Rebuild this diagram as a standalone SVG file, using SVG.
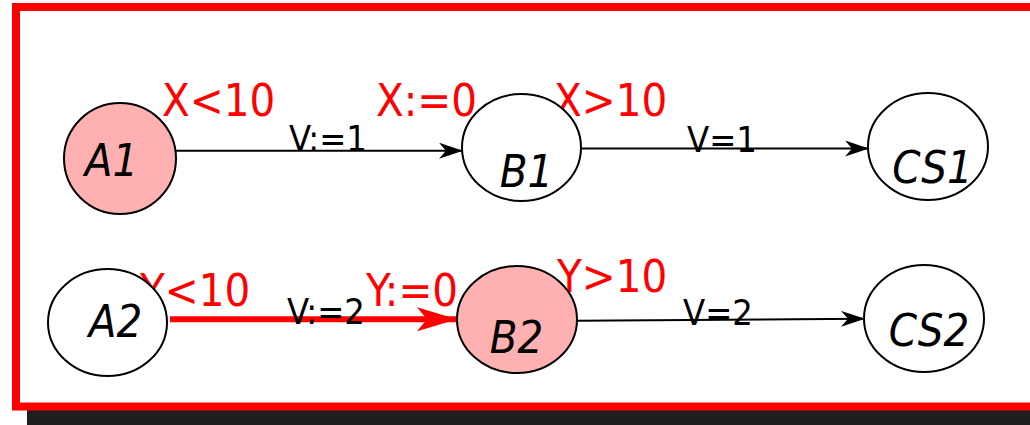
<svg xmlns="http://www.w3.org/2000/svg" width="1030" height="425" viewBox="0 0 1030 425">
<style>
.node{stroke:#000;stroke-width:2;fill:#fff}
.hot{fill:#ffb0b0}
text{font-family:"DejaVu Sans Condensed","DejaVu Sans",sans-serif;font-stretch:condensed}
.nl{font-style:italic;font-size:45px;fill:#000;text-anchor:middle}
.guard{font-size:45px;fill:#ff0000}
.act{font-size:36px;fill:#000}
.edge{stroke:#000;stroke-width:2;fill:none}
.edge-red{stroke:#ff0000;stroke-width:6;fill:none}
</style>
<defs>
<marker id="arrB" viewBox="0 0 24 16" refX="23" refY="8" markerWidth="24" markerHeight="16" markerUnits="userSpaceOnUse" orient="auto">
<path d="M0,0 L24,8 L0,16 L7,8 Z" fill="#000"/>
</marker>
<marker id="arrR" viewBox="0 0 40 24" refX="40" refY="12" markerWidth="40" markerHeight="24" markerUnits="userSpaceOnUse" orient="auto">
<path d="M0,0 L40,12 L0,24 L10,12 Z" fill="#ff0000"/>
</marker>
</defs>
<rect x="0" y="0" width="1030" height="425" fill="#fff"/>
<rect x="27" y="18" width="1020" height="420" fill="#1e1e1e"/>
<rect x="16" y="7" width="1030" height="399.5" fill="#fff" stroke="#ff0000" stroke-width="8"/>
<g id="connectors">
<line class="edge" x1="176" y1="150.7" x2="462" y2="150.7" marker-end="url(#arrB)"/>
<line class="edge" x1="581" y1="148.5" x2="868" y2="148.5" marker-end="url(#arrB)"/>
<line class="edge-red" x1="170" y1="319.3" x2="457" y2="319.3" marker-end="url(#arrR)"/>
<line class="edge" x1="577" y1="320.7" x2="864" y2="318.7" marker-end="url(#arrB)"/>
</g>
<g id="labels">
<text class="guard" x="162" y="116">X&lt;10</text>
<text class="guard" x="376" y="116">X:=0</text>
<text class="guard" x="554" y="116">X&gt;10</text>
<text class="guard" x="140" y="306">Y&lt;10</text>
<text class="guard" x="366" y="306">Y:=0</text>
<text class="guard" x="557" y="292">Y&gt;10</text>
<text class="act" x="289" y="151">V:=1</text>
<text class="act" x="687" y="152">V=1</text>
<text class="act" x="287" y="324">V:=2</text>
<text class="act" x="683" y="325">V=2</text>
</g>
<g id="A1"><ellipse class="node hot" cx="120" cy="158.5" rx="56" ry="55.5"/><text class="nl" x="111.5" y="176">A1</text></g>
<g id="B1"><ellipse class="node" cx="521.5" cy="147.5" rx="59.5" ry="53.5"/><text class="nl" x="526.5" y="187">B1</text></g>
<g id="CS1"><ellipse class="node" cx="928" cy="146.5" rx="60" ry="53.5"/><text class="nl" x="932.5" y="183">CS1</text></g>
<g id="A2"><ellipse class="node" cx="107.5" cy="322.5" rx="59.5" ry="53.5"/><text class="nl" x="115.5" y="337">A2</text></g>
<g id="B2"><ellipse class="node hot" cx="517" cy="319.5" rx="60" ry="53.5"/><text class="nl" x="516.5" y="353">B2</text></g>
<g id="CS2"><ellipse class="node" cx="924" cy="318.5" rx="60" ry="53.5"/><text class="nl" x="929" y="346">CS2</text></g>
</svg>
